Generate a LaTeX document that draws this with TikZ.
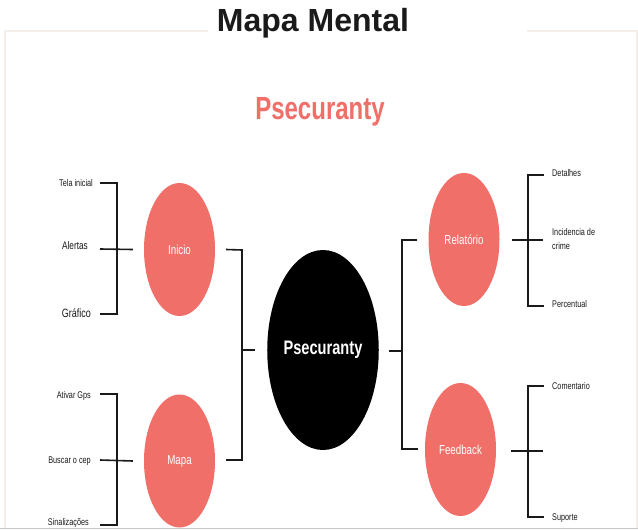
\documentclass[tikz,border=0pt]{standalone}
\usepackage{fontspec}
\setmainfont{Liberation Sans}
\newfontfamily\cond[FakeStretch=0.75]{Liberation Sans}
\usetikzlibrary{shapes.geometric}
\definecolor{salmon}{HTML}{F07069}
\definecolor{framec}{HTML}{F3EEE9}
\definecolor{ink}{HTML}{1A1A1A}
\definecolor{bottomline}{HTML}{C8C8C8}
\begin{document}
\begin{tikzpicture}[x=1pt,y=-1pt,
  topic/.style={ellipse, fill=salmon, text=white, minimum width=71pt, minimum height=133pt, inner sep=0pt, font=\cond\fontsize{13}{15}\selectfont},
  core/.style={ellipse, fill=black, text=white, minimum width=108pt, minimum height=200pt, inner sep=0pt, font=\cond\bfseries\fontsize{19.5}{22}\selectfont},
  leaf/.style={inner sep=0pt, text=ink, font=\cond\fontsize{9.7}{14}\selectfont},
  link/.style={draw=ink, line width=1.6pt}]
\useasboundingbox (0,0) rectangle (638,530);
\fill[white] (0,0) rectangle (638,530);
% frame
\draw[framec, line width=1.5pt] (208,31) -- (5,31) -- (5,528);
\draw[framec, line width=1.5pt] (527,31) -- (637,31) -- (637,528);
\draw[bottomline, line width=1.5pt] (0,528.5) -- (638,528.5);
% titles
\node[anchor=base, inner sep=0pt, text=ink, font=\bfseries\fontsize{32}{36}\selectfont] (title) at (313,31) {Mapa Mental};
\node[anchor=base, inner sep=0pt, text=salmon, font=\cond\bfseries\fontsize{32}{36}\selectfont] (brand) at (320,119) {Psecuranty};
% main nodes
\node[core] (core) at (323,350) {Psecuranty};
\node[topic] (inicio) at (179.5,249.5) {Inicio};
\node[topic] (mapa) at (179.5,461) {Mapa};
\node[topic] (rel) at (464,239.5) {Relatório};
\node[topic] (feed) at (460.5,449.5) {Feedback};
% left leaves
\node[leaf, anchor=base east] (tela) at (93,186) {Tela inicial};
\node[leaf, anchor=base east, font=\cond\fontsize{11}{13}\selectfont] (alertas) at (88,249) {Alertas};
\node[leaf, anchor=base east, font=\cond\fontsize{12}{14}\selectfont] (graf) at (91,317) {Gráfico};
\node[leaf, anchor=base east] (gps) at (91,398) {Ativar Gps};
\node[leaf, anchor=base east] (cep) at (91,463) {Buscar o cep};
\node[leaf, anchor=base east] (sinal) at (89,525) {Sinalizações};
% right leaves
\node[leaf, anchor=base west] (det) at (552,176) {Detalhes};
\node[leaf, anchor=west, align=left] (inc) at (552,239.5) {Incidencia de\\crime};
\node[leaf, anchor=base west] (perc) at (552,307) {Percentual};
\node[leaf, anchor=base west] (coment) at (552,389) {Comentario};
\node[leaf, anchor=base west] (sup) at (552,520) {Suporte};
% connector coordinates
\coordinate (telaE) at (100,183);
\coordinate (alertE) at (100,249);
\coordinate (grafE) at (100,314);
\coordinate (gpsE) at (100,394);
\coordinate (cepE) at (100,460);
\coordinate (sinalE) at (100,525);
\coordinate (detW) at (544,175);
\coordinate (incW) at (543,240);
\coordinate (percW) at (544,306);
\coordinate (comW) at (544,386);
\coordinate (feedR) at (543,451);
\coordinate (supW) at (544,517);
% inicio bracket
\draw[link] (telaE) -- (117,183) -- (117,314) -- (grafE);
\draw[link] (alertE) -- ([xshift=-11pt]inicio.west);
% mapa bracket
\draw[link] (gpsE) -- (117,394) -- (117,525) -- (sinalE);
\draw[link] (cepE) -- ([xshift=-11pt]mapa.west);
% central left bracket
\draw[link] ([xshift=11pt]inicio.east) -- (242,250) -- (242,460) -- ([xshift=11pt]mapa.east |- 0,460);
\draw[link] (242,350) -- ([xshift=-12pt]core.west);
% central right bracket
\draw[link] ([xshift=10pt]core.east |- 0,351) -- (402,351);
\draw[link] ([xshift=-11pt]rel.west |- 0,240) -- (402,240) -- (402,449) -- ([xshift=-7pt]feed.west |- 0,449);
% relatorio bracket
\draw[link] ([xshift=12pt]rel.east |- 0,240) -- (incW);
\draw[link] (detW) -- (528,175) -- (528,306) -- (percW);
% feedback bracket
\draw[link] ([xshift=15pt]feed.east |- 0,451) -- (feedR);
\draw[link] (comW) -- (528,386) -- (528,517) -- (supW);
\end{tikzpicture}
\end{document}
